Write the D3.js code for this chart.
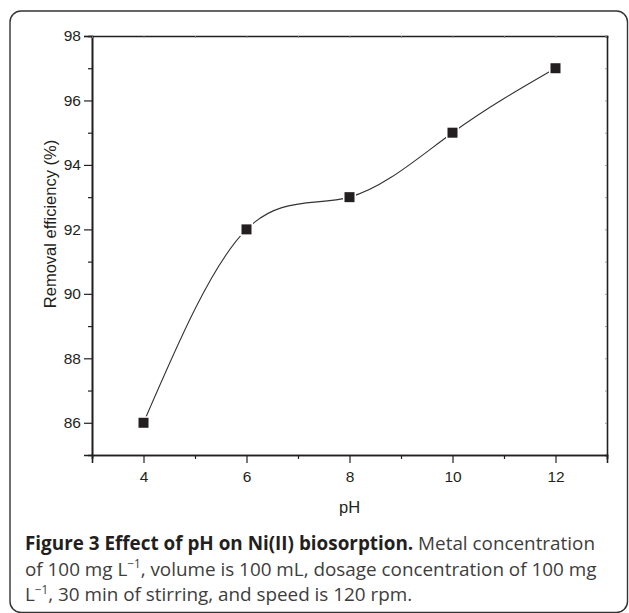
<!DOCTYPE html>
<html><head><meta charset="utf-8">
<script src="https://cdn.jsdelivr.net/npm/d3@7"></script>
<style>html,body{margin:0;padding:0;background:#fff;}svg{display:block;}</style>
</head><body>
<script>
const phValues = [4, 6, 8, 10, 12];
const efficiency = [86, 92, 93, 95, 97];
const xMajorTicks = [4, 6, 8, 10, 12];
const xMinorTicks = [3, 5, 7, 9, 11, 13];
const yMajorTicks = [86, 88, 90, 92, 94, 96, 98];
const yMinorTicks = [87, 89, 91, 93, 95, 97];
const xTitle = "pH";
const yTitle = "Removal efficiency (%)";
const captionBold = "Figure 3 Effect of pH on Ni(II) biosorption.";

const W = 629, H = 613;
const ink = "#231f20";
const svg = d3.select("body").append("svg").attr("width", W).attr("height", H);

// outer rounded frame
svg.append("rect").attr("x", 10).attr("y", 11).attr("width", 617.5).attr("height", 601.5)
  .attr("rx", 11).attr("fill", "none").attr("stroke", "#333").attr("stroke-width", 1.4);

const L = 92, R = 607, T = 36, B = 455;
const x = d3.scaleLinear().domain([3, 13]).range([L, R]);
const y = d3.scaleLinear().domain([85, 98]).range([B, T]);

const tickFont = "'Liberation Sans', Arial, sans-serif";

// bottom axis
const gx = svg.append("g").attr("transform", `translate(0,${B})`)
  .call(d3.axisBottom(x).tickValues(xMajorTicks).tickSize(8).tickPadding(8).tickFormat(d3.format("d")));
const gxm = svg.append("g").attr("transform", `translate(0,${B})`)
  .call(d3.axisBottom(x).tickValues(xMinorTicks).tickSize(4).tickFormat(""));
// left axis
const gy = svg.append("g").attr("transform", `translate(${L},0)`)
  .call(d3.axisLeft(y).tickValues(yMajorTicks).tickSize(8).tickPadding(3).tickFormat(d3.format("d")));
const gym = svg.append("g").attr("transform", `translate(${L},0)`)
  .call(d3.axisLeft(y).tickValues(yMinorTicks).tickSize(4).tickFormat(""));
// top and right mirrored axes with tiny inward ticks
const gt = svg.append("g").attr("transform", `translate(0,${T})`)
  .call(d3.axisBottom(x).tickValues(xMajorTicks.concat(xMinorTicks)).tickSize(2).tickFormat(""));
const gr = svg.append("g").attr("transform", `translate(${R},0)`)
  .call(d3.axisLeft(y).tickValues(yMajorTicks.concat(yMinorTicks)).tickSize(2).tickFormat(""));

[gx, gxm, gy, gym, gt, gr].forEach(g => {
  g.attr("font-size", 15.5).attr("font-family", tickFont);
  g.select(".domain").attr("stroke", ink).attr("stroke-width", 1.6);
  g.selectAll(".tick line").attr("stroke", ink).attr("stroke-width", 1.2);
  g.selectAll("text").attr("fill", ink);
});
gt.selectAll(".tick line").attr("stroke", "#888").attr("stroke-width", 0.8);
gr.selectAll(".tick line").attr("stroke", "#888").attr("stroke-width", 0.8);

// axis titles
svg.append("text").attr("x", (L + R) / 2).attr("y", 513).attr("text-anchor", "middle")
  .attr("font-family", tickFont).attr("font-size", 16.5).attr("fill", ink).text(xTitle);
svg.append("text").attr("transform", `translate(56,224) rotate(-90)`).attr("text-anchor", "middle")
  .attr("font-family", tickFont).attr("font-size", 16.5).attr("fill", ink).text(yTitle);

// spline curve
const pts = phValues.map((v, i) => [x(v), y(efficiency[i])]);
svg.append("path").attr("d", d3.line().curve(d3.curveNatural)(pts))
  .attr("fill", "none").attr("stroke", "#333").attr("stroke-width", 1.1);

// markers
const ms = 10;
svg.append("g").selectAll("rect").data(phValues).join("rect")
  .attr("x", (d) => x(d) - ms / 2).attr("y", (d, i) => y(efficiency[i]) - ms / 2)
  .attr("width", ms).attr("height", ms)
  .attr("fill", ink).attr("stroke", "#fff").attr("stroke-width", 3).attr("paint-order", "stroke");

// caption
const capFont = "'Open Sans', 'Noto Sans', sans-serif";
const capX = 25;
const baseSize = 18;
const lines = [
  [{t: captionBold, b: true}, {t: " Metal concentration"}],
  [{t: "of 100 mg L"}, {t: "\u22121", sup: true}, {t: ", volume is 100 mL, dosage concentration of 100 mg"}],
  [{t: "L"}, {t: "\u22121", sup: true}, {t: ", 30 min of stirring, and speed is 120 rpm."}]
];
const baselines = [550, 575.5, 601];
const capG = svg.append("g");
const textEls = lines.map((parts, li) => {
  const te = capG.append("text").attr("x", capX).attr("y", baselines[li])
    .attr("font-family", capFont).attr("font-size", baseSize).attr("fill", "#3d3d3d");
  parts.forEach(p => {
    const ts = te.append("tspan").text(p.t);
    if (p.b) ts.attr("font-weight", "bold").attr("fill", ink);
    if (p.sup) ts.attr("font-size", baseSize * 0.62).attr("dy", -7);
    else if (p !== parts[0] && parts[parts.indexOf(p) - 1].sup) ts.attr("dy", 7);
  });
  return te;
});
// fit font size so line 1 spans to ~595px
const w1 = textEls[0].node().getComputedTextLength();
const scale = (595 - capX) / w1;
const fs = baseSize * scale;
textEls.forEach(te => {
  te.attr("font-size", fs);
  te.selectAll("tspan").each(function() {
    const s = d3.select(this);
    if (s.text() === "\u22121") s.attr("font-size", fs * 0.62).attr("dy", -7 * scale);
    else if (s.attr("dy") !== null) s.attr("dy", 7 * scale);
  });
});
</script>
</body></html>
